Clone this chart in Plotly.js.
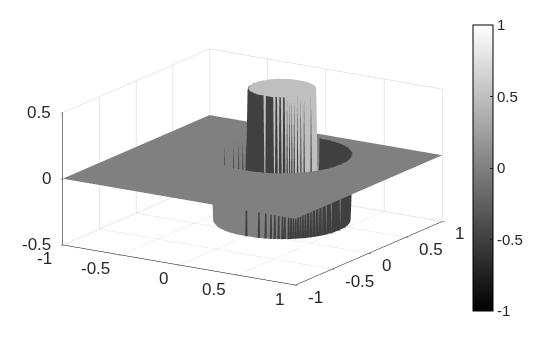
<!DOCTYPE html>
<html><head><meta charset="utf-8">
<script src="https://cdn.plot.ly/plotly-3.0.1.min.js"></script>
<style>html,body{margin:0;padding:0;background:#fff}#p{width:560px;height:349px}</style></head>
<body><div id="p"></div>
<script>
// Plateau heights
const levelInner = 0.5, levelRing = -0.5, levelOuter = 0;
// Half width (in grid cells, 1 cell = 0.0125) of each plateau, per row away from the centre
const innerRows = [20,19,19,19,19,19,19,18,18,17,17,16,16,15,14,13,12,10,8,6,0];
const ringRows = [40,39,39,39,39,39,39,39,39,38,38,38,38,37,37,37,36,36,35,35,34,34,33,32,32,31,30,29,28,27,26,25,24,22,21,19,17,15,12,8,0];
const cellsPerSide = 160, cellSize = 0.0125, centreRowOffset = 32;
const xTicks = [-1,-0.5,0,0.5,1], yTicks = [-1,-0.5,0,0.5,1], zTicks = [-0.5,0,0.5], barTicks = [-1,-0.5,0,0.5,1];

const half = cellsPerSide/2, n = cellsPerSide+1;
function level(a,b){
  const p=Math.abs(a), q=Math.abs(b);
  if(q<innerRows.length && p<=innerRows[q]) return levelInner;
  if(q<ringRows.length && p<=ringRows[q]) return levelRing;
  return levelOuter;
}
const grey=[[0,'#000000'],[1,'#ffffff']];
const shade=(v)=>{const g=Math.round((v+1)/2*255);return 'rgb('+g+','+g+','+g+')';};
const X=[],Y=[],Z=[],I=[],J=[],K=[],F=[];
for(let r=0;r<n;r++)for(let c=0;c<n;c++){X.push((c-half)*cellSize);Y.push((r-half)*cellSize);Z.push(level(c-half,r-half-centreRowOffset));}
for(let r=0;r<n-1;r++)for(let c=0;c<n-1;c++){
  const a=r*n+c,b=a+1,d=a+n,e=d+1,s=shade(Z[a]);
  I.push(a,a);J.push(b,e);K.push(e,d);F.push(s,s);
}
const ax=(t)=>({range:[t[0],t[t.length-1]],tickvals:t,autorange:false,title:{text:''},showbackground:false,showgrid:true,gridcolor:'#cfcfcf',gridwidth:1,zeroline:false,showline:true,linecolor:'#000',linewidth:1,ticks:'outside',ticklen:3,tickcolor:'#000',showticklabels:false,showspikes:false});
const font={family:'Liberation Sans',size:17,color:'#262626'};
const lab=(x,y,z,anchor,sx,sy)=>({x,y,z,text:String(anchor.v),showarrow:false,xanchor:anchor.a,yanchor:'middle',xshift:sx,yshift:sy,font});
const annos=[
 ...xTicks.map(v=>lab(v,-1,-0.5,{v,a:'right'},-9,-14)),
 ...yTicks.map(v=>lab(1,v,-0.5,{v,a:'left'},11,-12)),
 ...zTicks.map(v=>lab(-1,-1,v,{v,a:'right'},-10,0))
];
Plotly.newPlot('p',[
 {type:'mesh3d',x:X,y:Y,z:Z,i:I,j:J,k:K,facecolor:F,flatshading:true,lighting:{ambient:1,diffuse:0,specular:0,roughness:1,fresnel:0},hoverinfo:'skip',showscale:false},
 {type:'mesh3d',x:[0,0,0],y:[0,0,0],z:[0,0,0],i:[0],j:[1],k:[2],intensity:[-1,0,1],colorscale:grey,cmin:-1,cmax:1,hoverinfo:'skip',
 colorbar:{x:473/560,xanchor:'left',y:1-25/349,yanchor:'top',len:286/349,lenmode:'fraction',thickness:20,thicknessmode:'pixels',outlinecolor:'#000',outlinewidth:1,borderwidth:0,xpad:0,ypad:0,tickvals:barTicks,ticktext:barTicks.map(String),ticks:'inside',ticklen:3,tickcolor:'#222',ticklabelposition:'outside',tickfont:{family:'Liberation Sans',size:15,color:'#262626'}}}],
 {width:560,height:349,margin:{l:0,r:0,t:0,b:0},paper_bgcolor:'#fff',showlegend:false,
  scene:{domain:{x:[0,505/560],y:[15/349,1]},aspectmode:'manual',aspectratio:{x:1.648,y:1.648,z:0.824},annotations:annos,
   camera:{projection:{type:'orthographic'},eye:{x:1.54,y:-2.44,z:0.82},center:{x:0,y:0,z:0},up:{x:0,y:0,z:1}},
   xaxis:ax(xTicks),yaxis:ax(yTicks),zaxis:ax(zTicks)}},
 {displayModeBar:false});
</script></body></html>
